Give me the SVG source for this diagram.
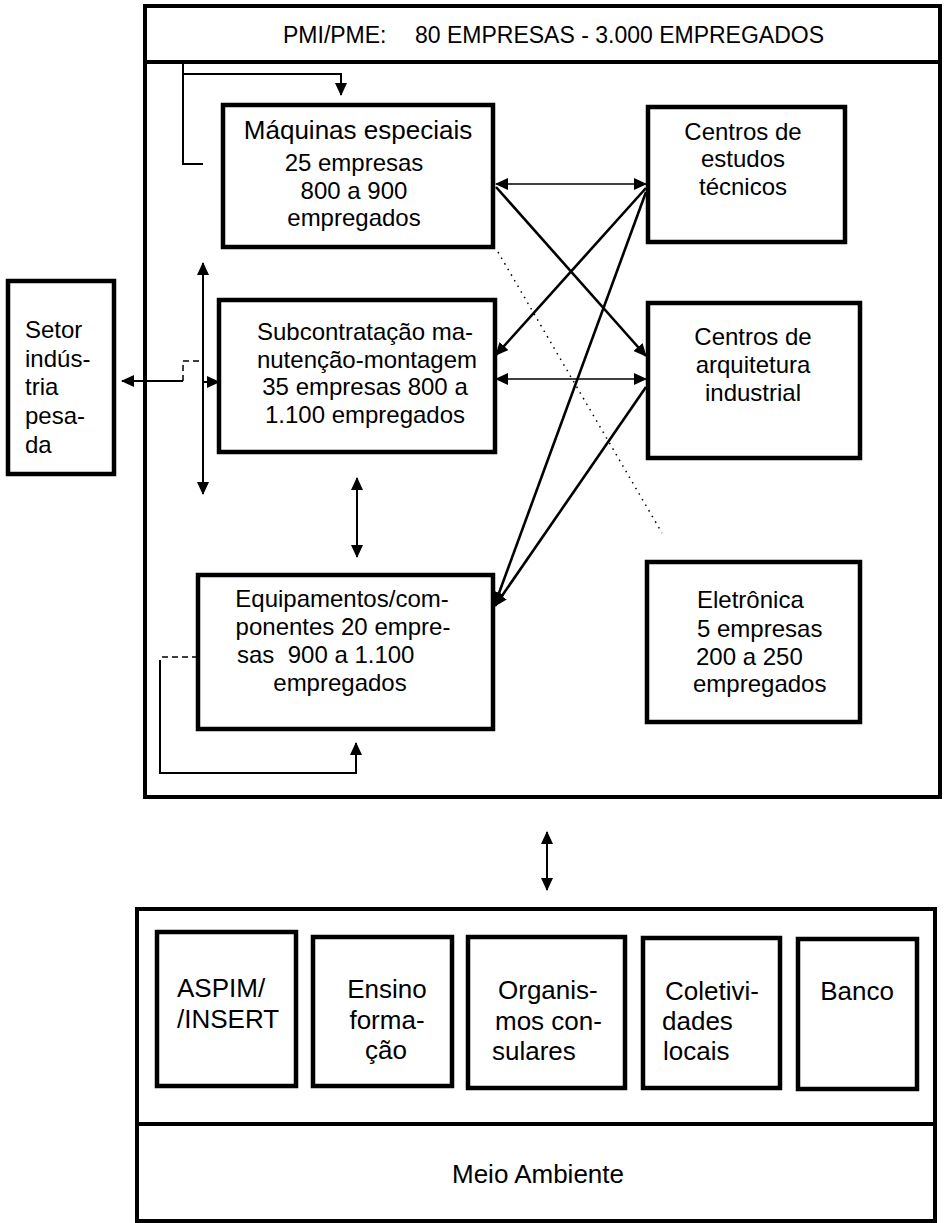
<svg xmlns="http://www.w3.org/2000/svg" width="947" height="1223" viewBox="0 0 947 1223">
<style>
.box{fill:#fff;stroke:#000;stroke-width:4.5}
.frame{fill:none;stroke:#000;stroke-width:4}
.t{font-family:"Liberation Sans",Arial,sans-serif;font-size:24px;fill:#000}
.tb{font-family:"Liberation Sans",Arial,sans-serif;font-size:26px;fill:#000}
.m{text-anchor:middle}
.c{fill:none;stroke:#000;stroke-width:2}
.d{fill:none;stroke:#000;stroke-width:2.6}
.thin{fill:none;stroke:#000;stroke-width:1.6}
.dash{fill:none;stroke:#000;stroke-width:1.5;stroke-dasharray:6 4}
.dot{fill:none;stroke:#000;stroke-width:1.5;stroke-dasharray:1.5 5}
</style>
<defs>
<marker id="ah" markerUnits="userSpaceOnUse" markerWidth="14" markerHeight="12" refX="12" refY="6" orient="auto-start-reverse" viewBox="0 0 14 12">
<path d="M0,0 L13,6 L0,12 Z" fill="#000"/>
</marker>
</defs>
<rect width="947" height="1223" fill="#fff"/>

<g id="pmi-cluster">
<rect class="frame" x="145" y="6" width="795" height="791"/>
<line class="frame" x1="145" y1="62" x2="940" y2="62"/>
<text class="t" x="283" y="43" style="font-size:23px">PMI/PME:</text>
<text class="t" x="415" y="43" style="font-size:23px">80 EMPRESAS - 3.000 EMPREGADOS</text>
</g>

<g id="maquinas">
<rect class="box" x="223" y="105" width="270" height="142"/>
<text class="t m" x="358" y="139" style="font-size:26px">Máquinas especiais</text>
<text class="t m" x="354" y="171">25 empresas</text>
<text class="t m" x="354" y="199">800 a 900</text>
<text class="t m" x="354" y="226">empregados</text>
</g>

<g id="subcontratacao">
<rect class="box" x="219" y="300" width="276" height="152"/>
<text class="t m" x="365" y="340">Subcontratação ma-</text>
<text class="t m" x="367" y="368">nutenção-montagem</text>
<text class="t m" x="365" y="395">35 empresas 800 a</text>
<text class="t m" x="365" y="423">1.100 empregados</text>
</g>

<g id="equipamentos">
<rect class="box" x="198" y="575" width="295" height="154"/>
<text class="t m" x="342" y="607">Equipamentos/com-</text>
<text class="t m" x="343" y="635">ponentes 20 empre-</text>
<text class="t" x="237" y="663" xml:space="preserve">sas  900 a 1.100</text>
<text class="t m" x="340" y="691">empregados</text>
</g>

<g id="centros-estudos">
<rect class="box" x="648" y="107" width="197" height="135"/>
<text class="t m" x="743" y="140">Centros de</text>
<text class="t m" x="743" y="167">estudos</text>
<text class="t m" x="743" y="195">técnicos</text>
</g>

<g id="centros-arquitetura">
<rect class="box" x="648" y="303" width="212" height="155"/>
<text class="t m" x="753" y="345">Centros de</text>
<text class="t m" x="753" y="373">arquitetura</text>
<text class="t m" x="753" y="401">industrial</text>
</g>

<g id="eletronica">
<rect class="box" x="647" y="562" width="213" height="160"/>
<text class="t" x="697" y="608">Eletrônica</text>
<text class="t" x="697" y="637">5 empresas</text>
<text class="t" x="696" y="665">200 a 250</text>
<text class="t" x="693" y="692">empregados</text>
</g>

<g id="setor">
<rect class="box" x="8" y="281" width="106" height="193"/>
<text class="t" x="25" y="338">Setor</text>
<text class="t" x="25" y="367">indús-</text>
<text class="t" x="25" y="395">tria</text>
<text class="t" x="25" y="424">pesa-</text>
<text class="t" x="25" y="453">da</text>
</g>

<g id="meio-ambiente">
<rect class="frame" x="137" y="909" width="798" height="312"/>
<line class="frame" x1="137" y1="1124" x2="935" y2="1124"/>
<text class="tb m" x="538" y="1183">Meio Ambiente</text>
</g>

<g id="aspim">
<rect class="box" x="157" y="932" width="139" height="154"/>
<text class="tb" x="177" y="997">ASPIM/</text>
<text class="tb" x="177" y="1028">/INSERT</text>
</g>

<g id="ensino">
<rect class="box" x="313" y="937" width="139" height="149"/>
<text class="tb m" x="387" y="998">Ensino</text>
<text class="tb m" x="387" y="1029">forma-</text>
<text class="tb m" x="386" y="1059">ção</text>
</g>

<g id="organismos">
<rect class="box" x="468" y="937" width="157" height="151"/>
<text class="tb" x="498" y="999">Organis-</text>
<text class="tb" x="495" y="1030">mos con-</text>
<text class="tb" x="492" y="1060">sulares</text>
</g>

<g id="coletividades">
<rect class="box" x="643" y="938" width="137" height="150"/>
<text class="tb" x="665" y="1000">Coletivi-</text>
<text class="tb" x="662" y="1030">dades</text>
<text class="tb" x="663" y="1060">locais</text>
</g>

<g id="banco">
<rect class="box" x="798" y="939" width="119" height="150"/>
<text class="tb m" x="857" y="1000">Banco</text>
</g>

<g id="connectors">
<path class="c" d="M183,62 V164 H203"/>
<path class="c" d="M183,74 H341 V95" marker-end="url(#ah)"/>
<line class="thin" x1="496" y1="184" x2="646" y2="184" marker-start="url(#ah)" marker-end="url(#ah)"/>
<line class="d" x1="496" y1="187" x2="646" y2="356" marker-end="url(#ah)"/>
<line class="d" x1="646" y1="188" x2="496" y2="355" marker-end="url(#ah)"/>
<line class="d" x1="646" y1="192" x2="495" y2="604" marker-end="url(#ah)"/>
<line class="d" x1="646" y1="387" x2="495" y2="606" marker-end="url(#ah)"/>
<line class="thin" x1="496" y1="379" x2="646" y2="379" marker-start="url(#ah)" marker-end="url(#ah)"/>
<line class="dot" x1="498" y1="252" x2="662" y2="533"/>
<line class="c" x1="203" y1="263" x2="203" y2="494" marker-start="url(#ah)" marker-end="url(#ah)"/>
<line class="c" x1="203" y1="382" x2="219" y2="382" marker-end="url(#ah)"/>
<line class="c" x1="183" y1="381" x2="122" y2="381" marker-end="url(#ah)"/>
<path class="dash" d="M183,381 V361 H202"/>
<line class="c" x1="357" y1="478" x2="357" y2="557" marker-start="url(#ah)" marker-end="url(#ah)"/>
<line class="dash" x1="198" y1="657" x2="160" y2="657"/>
<path class="c" d="M160,660 V773 H356 V743" marker-end="url(#ah)"/>
<line class="c" x1="547" y1="832" x2="547" y2="890" marker-start="url(#ah)" marker-end="url(#ah)"/>
</g>
</svg>
